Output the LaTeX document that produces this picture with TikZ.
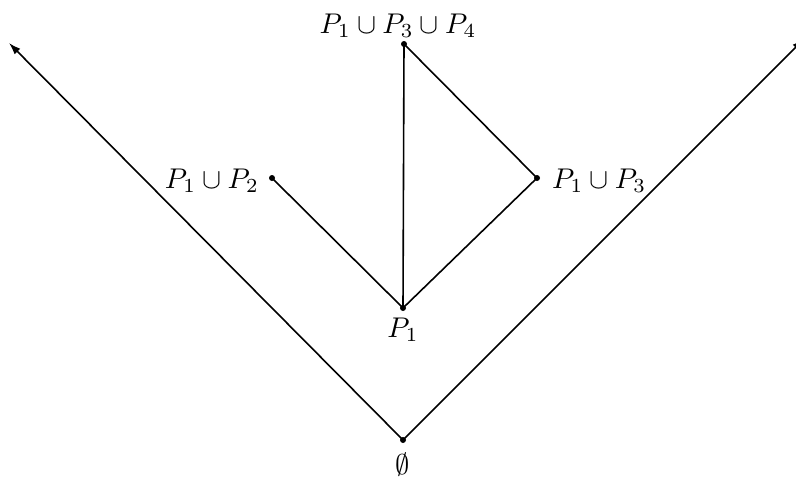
\documentclass[tikz,border=0pt]{standalone}
\usepackage{graphicx}
\usetikzlibrary{arrows.meta}
\newcommand{\biglbl}[1]{\scalebox{2.85}{$#1$}}
\begin{document}
\begin{tikzpicture}[x=1pt,y=-1pt,
  vdot/.style={circle,fill=black,inner sep=0pt,minimum size=6pt},
  lbl/.style={inner sep=0pt},
  edge/.style={line width=1.6pt},
  axis/.style={line width=1.6pt,-{Latex[length=12pt,width=8pt]}}]
\useasboundingbox (0,0) rectangle (796,483);
\node[vdot] (e) at (403,440) {};
\node[vdot] (p1) at (403,308) {};
\node[vdot] (p12) at (272,178) {};
\node[vdot] (p13) at (537,178) {};
\node[vdot] (p134) at (404,44) {};
\coordinate (L) at (9,43);
\coordinate (R) at (804,39);
\node[lbl,anchor=north] (le) at (403,453) {\biglbl{\emptyset}};
\node[lbl,anchor=north] (lp1) at (403,318) {\biglbl{P_1}};
\node[lbl,anchor=east] (lp12) at (259,181) {\biglbl{P_1\cup P_2}};
\node[lbl,anchor=west] (lp13) at (552,181) {\biglbl{P_1\cup P_3}};
\node[lbl,anchor=south] (lp134) at (398,38) {\biglbl{P_1\cup P_3\cup P_4}};
\draw[axis] (e.center) -- (L);
\draw[axis] (e.center) -- (R);
\draw[edge] (p1.center) -- (p12.center);
\draw[edge] (p1.center) -- (p13.center);
\draw[edge] (p1.center) -- (p134.center);
\draw[edge] (p13.center) -- (p134.center);
\end{tikzpicture}
\end{document}
